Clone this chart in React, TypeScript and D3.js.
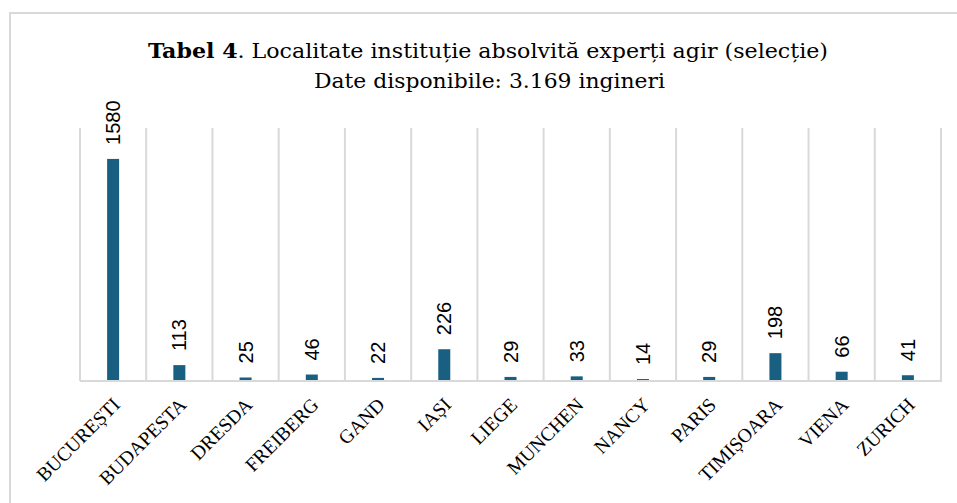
import { scaleBand, scaleLinear } from 'd3'

const cities = ['BUCUREȘTI', 'BUDAPESTA', 'DRESDA', 'FREIBERG', 'GAND', 'IAȘI', 'LIEGE', 'MUNCHEN', 'NANCY', 'PARIS', 'TIMIȘOARA', 'VIENA', 'ZURICH']
const counts = [1580, 113, 25, 46, 22, 226, 29, 33, 14, 29, 198, 66, 41]
const yMax = 1800

const titleBold = 'Tabel 4'
const titleRest = '. Localitate instituție absolvită experți agir (selecție)'
const subtitle = 'Date disponibile: 3.169 ingineri'

const App = () => {
  const width = 957
  const height = 503
  const left = 80
  const right = 941
  const top = 128
  const bottom = 381
  const grey = '#d9d9d9'
  const barColor = '#195f82'
  const barW = 12
  const serif = "'DejaVu Serif Condensed', 'Liberation Serif', serif"

  const x = scaleBand<string>().domain(cities).range([left, right])
  const y = scaleLinear().domain([0, yMax]).range([bottom, top])

  const data = cities.map((c, i) => ({ city: c, value: counts[i] }))

  return (
    <svg width={width} height={height} style={{ position: 'absolute', left: 0, top: 0, background: '#fff' }}>
      <rect x={10} y={13} width={width} height={height} fill="#fff" stroke={grey} strokeWidth={2} />

      <text x={148} y={58} textLength={680} lengthAdjust="spacingAndGlyphs" fontFamily={serif} fontSize={21} fill="#000">
        <tspan fontWeight="bold">{titleBold}</tspan>
        <tspan>{titleRest}</tspan>
      </text>
      <text x={314} y={88} textLength={351} lengthAdjust="spacingAndGlyphs" fontFamily={serif} fontSize={21} fill="#000">
        {subtitle}
      </text>

      {/* vertical gridlines between categories */}
      {cities.map(c => (
        <line key={'g' + c} x1={x(c)} x2={x(c)} y1={top} y2={bottom} stroke={grey} strokeWidth={2} />
      ))}
      <line x1={right} x2={right} y1={top} y2={bottom} stroke={grey} strokeWidth={2} />
      <line x1={left} x2={right + 1} y1={bottom} y2={bottom} stroke={grey} strokeWidth={2} />

      {data.map(d => {
        const cx = (x(d.city) as number) + x.bandwidth() / 2
        return (
          <g key={d.city}>
            <rect x={cx - barW / 2} y={y(d.value)} width={barW} height={bottom - 1 - y(d.value)} fill={barColor} />
            <text
              transform={`translate(${cx + 7},${y(d.value) - 14}) rotate(-90)`}
              fontFamily="'Liberation Sans', Arial, sans-serif"
              fontSize={20}
              fill="#000"
            >
              {d.value}
            </text>
            <text
              transform={`translate(${cx + 8},${bottom + 25}) rotate(-45)`}
              textAnchor="end"
              fontFamily="'Liberation Serif', 'Times New Roman', serif"
              fontSize={19.5}
              fill="#000"
            >
              {d.city}
            </text>
          </g>
        )
      })}
    </svg>
  )
}

export default App
